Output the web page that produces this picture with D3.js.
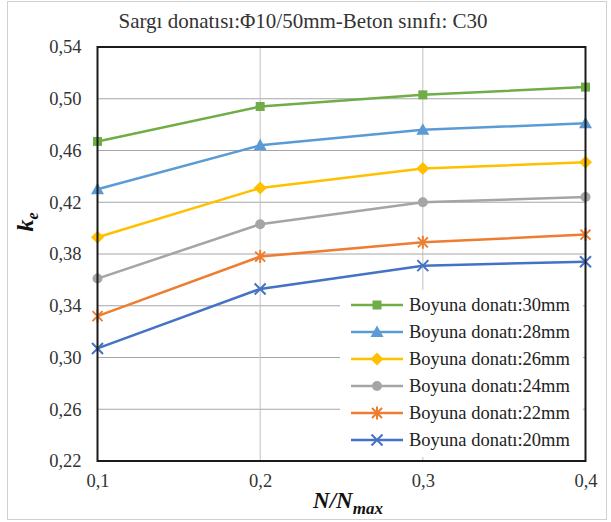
<!DOCTYPE html>
<html><head><meta charset="utf-8">
<script src="https://cdn.jsdelivr.net/npm/d3@7"></script>
<style>body{margin:0;background:#fff}svg{display:block}</style>
</head><body><svg id="c" width="611" height="522"></svg>
<script>
const xValues = [0.1, 0.2, 0.3, 0.4];
const xTickLabels = ["0,1", "0,2", "0,3", "0,4"];
const yTicks = [0.22, 0.26, 0.30, 0.34, 0.38, 0.42, 0.46, 0.50, 0.54];
const seriesNames = ["Boyuna donatı:30mm","Boyuna donatı:28mm","Boyuna donatı:26mm","Boyuna donatı:24mm","Boyuna donatı:22mm","Boyuna donatı:20mm"];
const s30 = [0.467, 0.494, 0.503, 0.509];
const s28 = [0.430, 0.464, 0.476, 0.481];
const s26 = [0.393, 0.431, 0.446, 0.451];
const s24 = [0.361, 0.403, 0.420, 0.424];
const s22 = [0.332, 0.378, 0.389, 0.395];
const s20 = [0.307, 0.353, 0.371, 0.374];
const colors = ["#70AD47","#5B9BD5","#FFC000","#A5A5A5","#ED7D31","#4472C4"];
const markers = ["square","triangle","diamond","circle","star","cross"];
const allSeries = [s30, s28, s26, s24, s22, s20];

const FONT = "Liberation Serif";
const svg = d3.select("#c");
svg.append("rect").attr("x",7.5).attr("y",1.5).attr("width",599).attr("height",518)
  .attr("fill","#fff").attr("stroke","#d0d0d0");

const x = d3.scaleLinear().domain([0.1,0.4]).range([97.5,585.5]);
const y = d3.scaleLinear().domain([0.22,0.54]).range([461,47]);
const [X0,X1] = x.range(), [Y0,Y1] = y.range();

// gridlines
const g = svg.append("g");
g.selectAll("line.h").data(yTicks).join("line")
  .attr("x1",X0).attr("x2",X1).attr("y1",d=>y(d)).attr("y2",d=>y(d))
  .attr("stroke","#a6a6a6").attr("stroke-width",1);
g.selectAll("line.v").data(xValues).join("line")
  .attr("y1",Y1).attr("y2",Y0).attr("x1",d=>x(d)).attr("x2",d=>x(d))
  .attr("stroke","#c0c0c0").attr("stroke-width",1);

// axes labels
const yAxis = d3.axisLeft(y).tickValues(yTicks).tickSize(0).tickPadding(16)
  .tickFormat(d=>d3.format(".2f")(d).replace(".",","));
const ya = svg.append("g").attr("transform",`translate(${X0},0)`).call(yAxis);
ya.select(".domain").remove();
ya.attr("font-family",FONT).attr("font-size",18.5);
ya.selectAll("text").attr("fill","#333");

const xAxis = d3.axisBottom(x).tickValues(xValues).tickSize(0).tickPadding(13)
  .tickFormat((d,i)=>xTickLabels[i]);
const xa = svg.append("g").attr("transform",`translate(0,${Y0})`).call(xAxis);
xa.select(".domain").remove();
xa.attr("font-family",FONT).attr("font-size",18.5);
xa.selectAll("text").attr("fill","#333");

// series
const line = d3.line().x((d,i)=>x(xValues[i])).y(d=>y(d));
function drawMarker(sel, type, color){
  if(type==="square") sel.append("rect").attr("x",-4.5).attr("y",-4.5).attr("width",9).attr("height",9).attr("fill",color);
  else if(type==="triangle") sel.append("path").attr("d","M0,-6.5L6.5,5L-6.5,5Z").attr("fill",color);
  else if(type==="diamond") sel.append("path").attr("d","M0,-6.5L6.5,0L0,6.5L-6.5,0Z").attr("fill",color);
  else if(type==="circle") sel.append("circle").attr("r",5).attr("fill",color);
  else if(type==="star") sel.append("path").attr("d","M-5,-5L5,5M-5,5L5,-5M0,-6.5L0,6.5").attr("stroke",color).attr("stroke-width",2).attr("fill","none");
  else if(type==="cross") sel.append("path").attr("d","M-5.5,-5.5L5.5,5.5M-5.5,5.5L5.5,-5.5").attr("stroke",color).attr("stroke-width",2).attr("fill","none");
}
allSeries.forEach((s,k)=>{
  svg.append("path").datum(s).attr("d",line).attr("fill","none")
    .attr("stroke",colors[k]).attr("stroke-width",2.5);
  s.forEach((v,i)=>{
    const m = svg.append("g").attr("transform",`translate(${x(xValues[i])},${y(v)})`);
    drawMarker(m, markers[k], colors[k]);
  });
});

// frame
svg.append("rect").attr("x",X0).attr("y",Y1).attr("width",X1-X0).attr("height",Y0-Y1)
  .attr("fill","none").attr("stroke","#1a1a1a").attr("stroke-width",2);

// legend
const lg = svg.append("g");
lg.append("rect").attr("x",340).attr("y",290).attr("width",243).attr("height",167).attr("fill","#fff");
seriesNames.forEach((n,k)=>{
  const yy = 305 + k*27;
  lg.append("line").attr("x1",351).attr("x2",403).attr("y1",yy).attr("y2",yy)
    .attr("stroke",colors[k]).attr("stroke-width",2.5);
  drawMarker(lg.append("g").attr("transform",`translate(377,${yy})`), markers[k], colors[k]);
  lg.append("text").attr("x",409).attr("y",yy+6).attr("font-family",FONT).attr("font-size",18.5)
    .attr("fill","#222").text(n);
});

// title
svg.append("text").attr("x",303).attr("y",28).attr("text-anchor","middle")
  .attr("font-family",FONT).attr("font-size",21).attr("fill","#333")
  .text("Sargı donatısı:Φ10/50mm-Beton sınıfı: C30");

// axis titles
const xt = svg.append("text").attr("x",348).attr("y",508).attr("text-anchor","middle")
  .attr("font-family",FONT).attr("font-size",23).attr("font-weight","bold").attr("font-style","italic").attr("fill","#111");
xt.append("tspan").text("N/N");
xt.append("tspan").attr("font-size",17).attr("dy",6).text("max");

const yt = svg.append("text").attr("transform","translate(33,222) rotate(-90)").attr("text-anchor","middle")
  .attr("font-family",FONT).attr("font-size",24).attr("font-weight","bold").attr("font-style","italic").attr("fill","#111");
yt.append("tspan").text("k");
yt.append("tspan").attr("font-size",16).attr("dy",5).text("e");
</script></body></html>
